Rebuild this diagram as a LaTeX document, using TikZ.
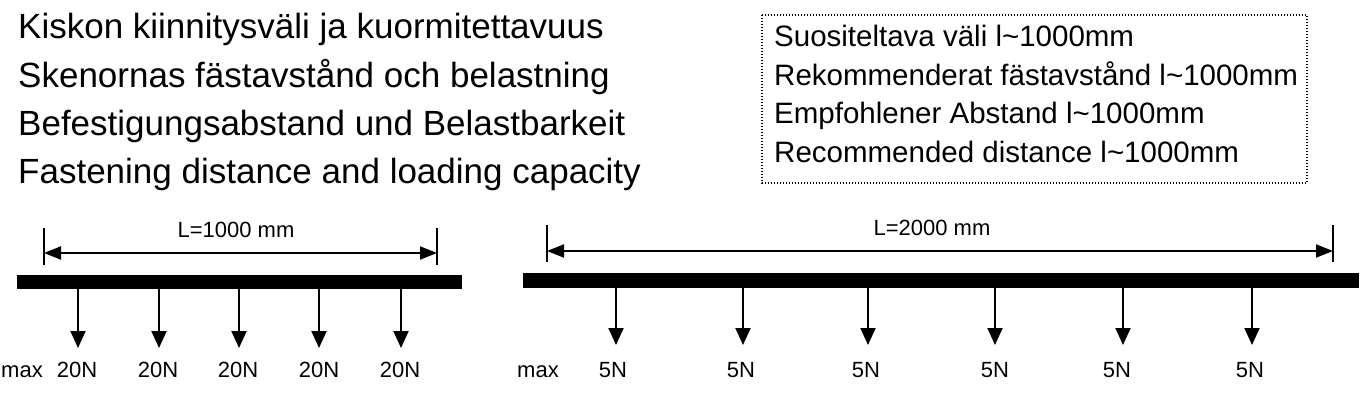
\documentclass[tikz,border=0pt]{standalone}
\usepackage{fontspec}
\setmainfont{Liberation Sans}
\usetikzlibrary{arrows.meta}
\begin{document}
\begin{tikzpicture}[x=1pt,y=-1pt,
  title/.style={anchor=base west, inner sep=0pt, font=\fontsize{35}{42}\selectfont},
  note/.style={anchor=base west, inner sep=0pt, font=\fontsize{29.5}{36}\selectfont},
  lbl/.style={anchor=base, inner sep=0pt, font=\fontsize{22}{26}\selectfont},
  dim/.style={line width=2pt, {Triangle[length=17pt,width=13pt]}-{Triangle[length=17pt,width=13pt]}},
  load/.style={line width=2pt, -{Triangle[length=17pt,width=15pt]}},
  rail/.style={fill=black, draw=none}]
  \useasboundingbox (0,0) rectangle (1364,404);

  % Title
  \node[title] (t1) at (18,39) {Kiskon kiinnitysväli ja kuormitettavuus};
  \node[title] (t2) at (18,87) {Skenornas fästavstånd och belastning};
  \node[title] (t3) at (18,135) {Befestigungsabstand und Belastbarkeit};
  \node[title] (t4) at (18,183) {Fastening distance and loading capacity};

  % Note box
  \draw[line width=1.4pt, dash pattern=on 1.4pt off 1.6pt] (762,15) rectangle (1307,183);
  \node[note] (r1) at (774,47) {Suositeltava väli l\char`\~1000mm};
  \node[note] (r2) at (774,85) {Rekommenderat fästavstånd l\char`\~1000mm};
  \node[note] (r3) at (774,123) {Empfohlener Abstand l\char`\~1000mm};
  \node[note] (r4) at (774,162) {Recommended distance l\char`\~1000mm};

  % Rail L=1000
  \draw[line width=1.5pt] (44,228) -- (44,265);
  \draw[line width=1.5pt] (437,228) -- (437,265);
  \coordinate (aL) at (44,253);
  \coordinate (aR) at (437,253);
  \draw[dim] (aL) -- (aR);
  \node[lbl] (la) at (236,237) {L=1000 mm};
  \fill[rail] (17,275) rectangle (462,289);

  \coordinate (a1) at (78,289);  \coordinate (a1e) at (78,348);
  \coordinate (a2) at (159,289); \coordinate (a2e) at (159,348);
  \coordinate (a3) at (239,289); \coordinate (a3e) at (239,348);
  \coordinate (a4) at (319,289); \coordinate (a4e) at (319,348);
  \coordinate (a5) at (401,289); \coordinate (a5e) at (401,348);
  \draw[load] (a1) -- (a1e);
  \draw[load] (a2) -- (a2e);
  \draw[load] (a3) -- (a3e);
  \draw[load] (a4) -- (a4e);
  \draw[load] (a5) -- (a5e);
  \node[lbl] (ma) at (22,377) {max};
  \node[lbl] (fa1) at (77,377) {20N};
  \node[lbl] (fa2) at (158,377) {20N};
  \node[lbl] (fa3) at (238,377) {20N};
  \node[lbl] (fa4) at (319,377) {20N};
  \node[lbl] (fa5) at (400,377) {20N};

  % Rail L=2000
  \draw[line width=1.5pt] (547,225) -- (547,262);
  \draw[line width=1.5pt] (1333,225) -- (1333,262);
  \coordinate (bL) at (547,251);
  \coordinate (bR) at (1333,251);
  \draw[dim] (bL) -- (bR);
  \node[lbl] (lb) at (932,235) {L=2000 mm};
  \fill[rail] (523,273) rectangle (1359,288);

  \coordinate (b1) at (616,288);  \coordinate (b1e) at (616,345);
  \coordinate (b2) at (743,288);  \coordinate (b2e) at (743,345);
  \coordinate (b3) at (868,288);  \coordinate (b3e) at (868,345);
  \coordinate (b4) at (995,288);  \coordinate (b4e) at (995,345);
  \coordinate (b5) at (1123,288); \coordinate (b5e) at (1123,345);
  \coordinate (b6) at (1252,288); \coordinate (b6e) at (1252,345);
  \draw[load] (b1) -- (b1e);
  \draw[load] (b2) -- (b2e);
  \draw[load] (b3) -- (b3e);
  \draw[load] (b4) -- (b4e);
  \draw[load] (b5) -- (b5e);
  \draw[load] (b6) -- (b6e);
  \node[lbl] (mb) at (538,377) {max};
  \node[lbl] (fb1) at (613,377) {5N};
  \node[lbl] (fb2) at (741,377) {5N};
  \node[lbl] (fb3) at (866,377) {5N};
  \node[lbl] (fb4) at (995,377) {5N};
  \node[lbl] (fb5) at (1117,377) {5N};
  \node[lbl] (fb6) at (1250,377) {5N};
\end{tikzpicture}
\end{document}
